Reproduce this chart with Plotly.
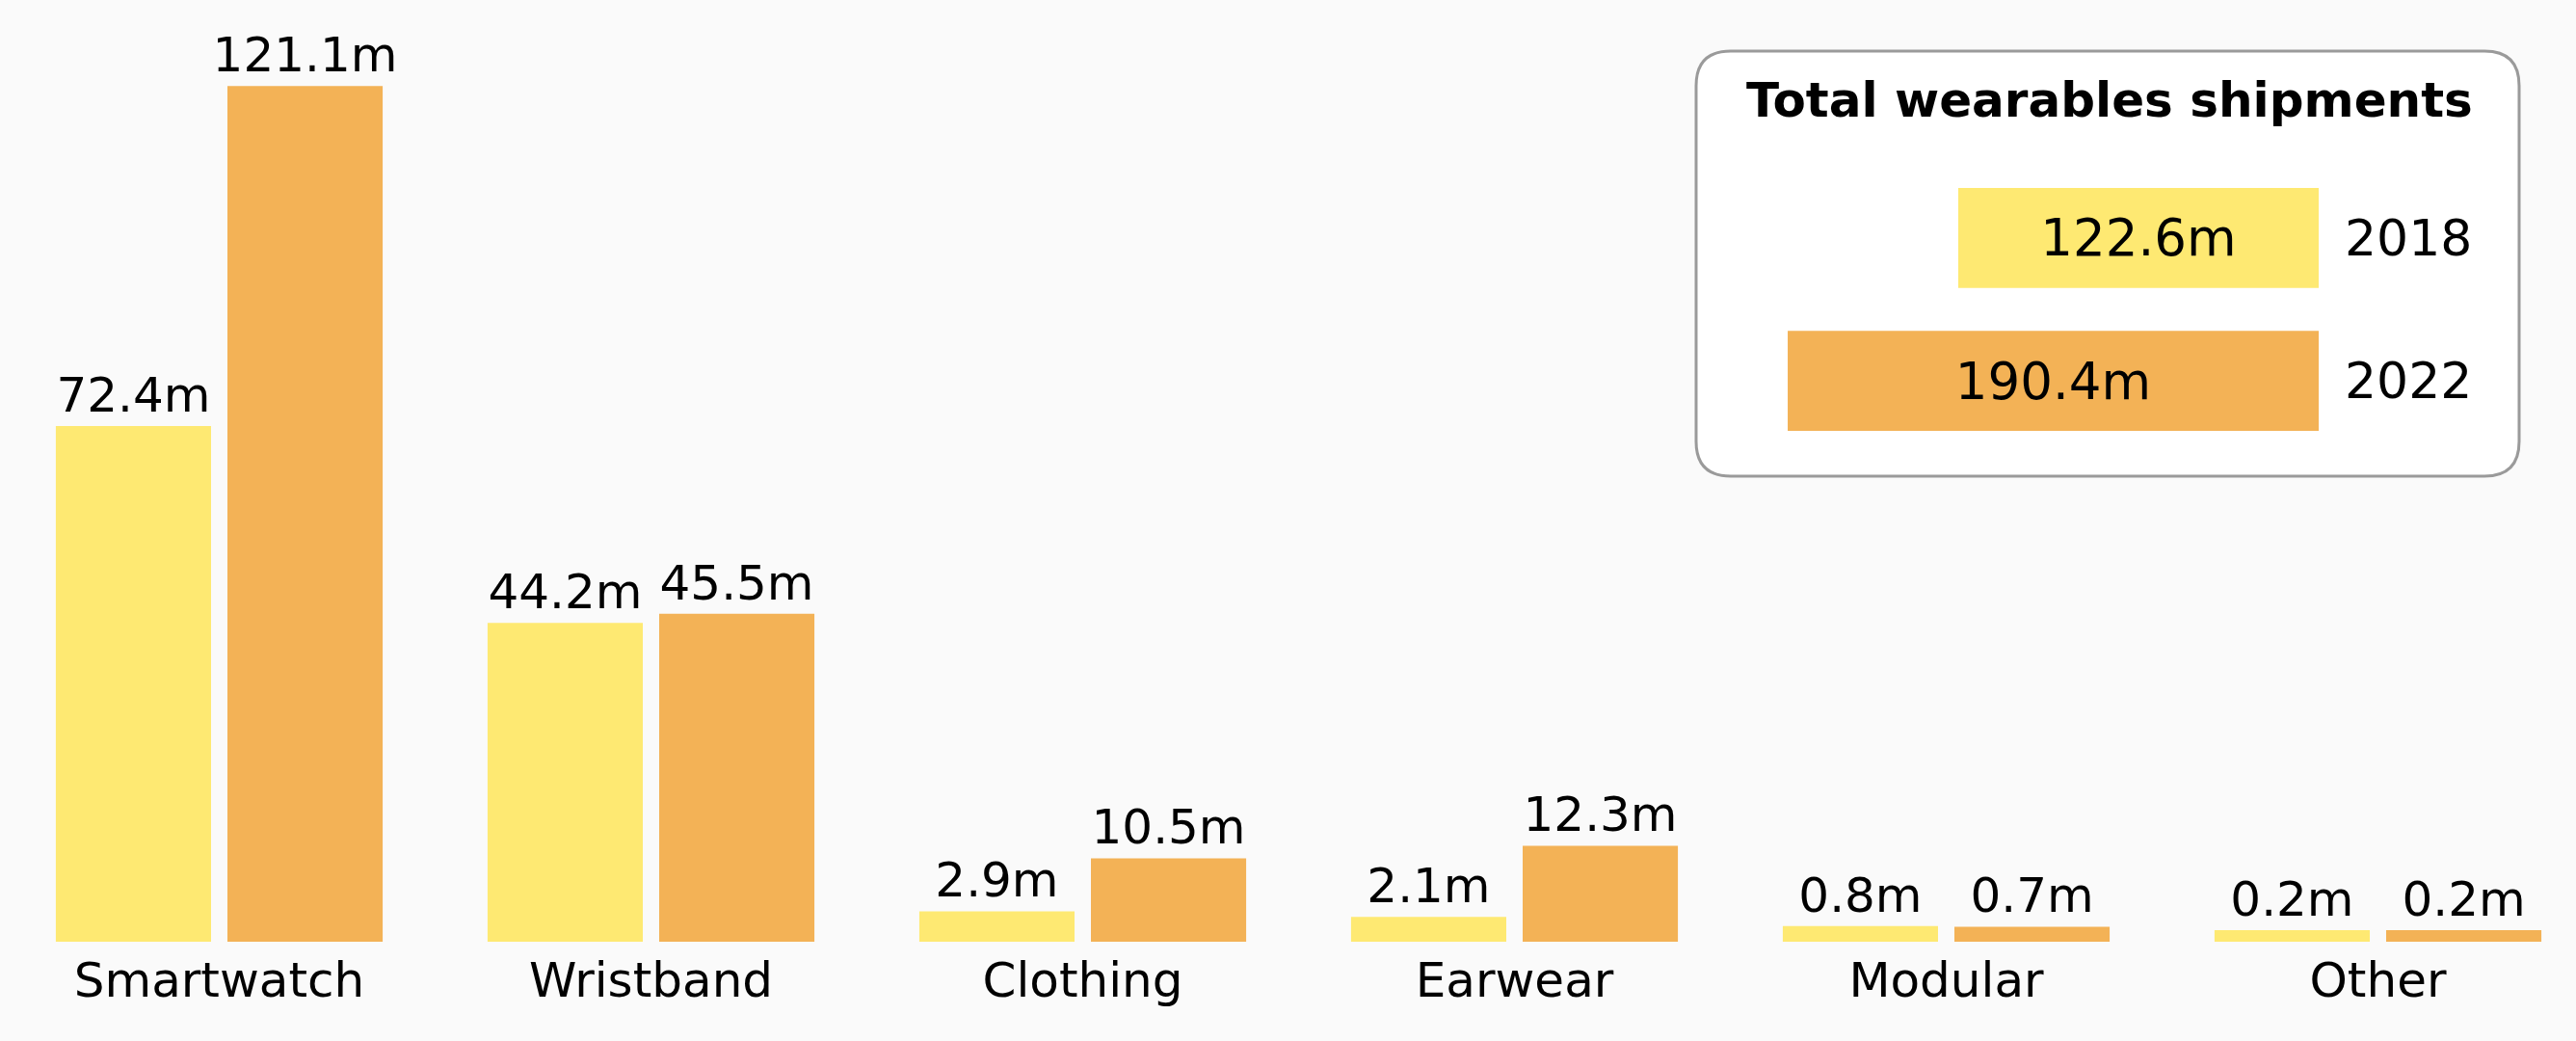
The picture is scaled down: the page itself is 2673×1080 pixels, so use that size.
import plotly.graph_objects as go

categories = ["Smartwatch", "Wristband", "Clothing", "Earwear", "Modular", "Other"]
shipments_2018 = [72.4, 44.2, 2.9, 2.1, 0.8, 0.2]
shipments_2022 = [121.1, 45.5, 10.5, 12.3, 0.7, 0.2]
years = ["2018", "2022"]
totals = [122.6, 190.4]

YELLOW = "#FEE972"
ORANGE = "#F3B256"
BG = "#fafafa"
FONT = "DejaVu Sans"

# every bar gets a small stub so tiny values stay visible
STUB = 1.45
TOTAL_STUB = 20.7

# page is 2673x1080, the body keeps an 8px margin around the figure
PAGE_W, PAGE_H = 2673, 1080
OFF = 8
W, H = PAGE_W - 2 * OFF, PAGE_H - 2 * OFF
PH = 977 - OFF
MB = H - PH


def px(x):
    return (x - OFF) / W


def py(y):
    return (PH - (y - OFF)) / PH


def label(v):
    return "%.1fm" % v


fig = go.Figure()

fig.add_trace(go.Bar(
    x=categories, y=[v + STUB for v in shipments_2018], base=-STUB,
    name="2018", marker=dict(color=YELLOW, line=dict(width=0)),
    text=[label(v) for v in shipments_2018], textposition="outside",
    textfont=dict(family=FONT, size=50, color="black"),
    constraintext="none", cliponaxis=False, hoverinfo="skip"))

fig.add_trace(go.Bar(
    x=categories, y=[v + STUB for v in shipments_2022], base=-STUB,
    name="2022", marker=dict(color=ORANGE, line=dict(width=0)),
    text=[label(v) for v in shipments_2022], textposition="outside",
    textfont=dict(family=FONT, size=50, color="black"),
    constraintext="none", cliponaxis=False, hoverinfo="skip"))

# totals box drawn as a small horizontal bar chart
fig.add_trace(go.Bar(
    y=years, x=[t + TOTAL_STUB for t in totals], base=-TOTAL_STUB,
    orientation="h", xaxis="x2", yaxis="y2", width=0.7, offset=-0.35,
    marker=dict(color=[YELLOW, ORANGE], line=dict(width=0)),
    text=[label(t) for t in totals], textposition="inside",
    insidetextanchor="middle", constraintext="none",
    textfont=dict(family=FONT, size=53, color="black"),
    hoverinfo="skip"))

# rounded legend box
L, R, T, B, RAD = 1760, 2614, 53, 494, 36
path = "M %f,%f " % (px(L + RAD), py(T))
path += "L %f,%f " % (px(R - RAD), py(T))
path += "Q %f,%f %f,%f " % (px(R), py(T), px(R), py(T + RAD))
path += "L %f,%f " % (px(R), py(B - RAD))
path += "Q %f,%f %f,%f " % (px(R), py(B), px(R - RAD), py(B))
path += "L %f,%f " % (px(L + RAD), py(B))
path += "Q %f,%f %f,%f " % (px(L), py(B), px(L), py(B - RAD))
path += "L %f,%f " % (px(L), py(T + RAD))
path += "Q %f,%f %f,%f Z" % (px(L), py(T), px(L + RAD), py(T))

fig.add_shape(type="path", path=path, xref="paper", yref="paper",
              fillcolor="white", line=dict(color="#9a9a9a", width=3),
              layer="below")

fig.add_annotation(text="<b>Total wearables shipments</b>", x=px(2189), y=py(104),
                   xref="paper", yref="paper", showarrow=False,
                   xanchor="center", yanchor="middle",
                   font=dict(family=FONT, size=50, color="black"))

x0 = -(227.5 - OFF) / 448.0
fig.update_layout(
    width=W, height=H,
    margin=dict(l=0, r=0, t=0, b=MB),
    paper_bgcolor=BG, plot_bgcolor="rgba(0,0,0,0)",
    barmode="group", bargap=0.205, bargroupgap=0.0955,
    showlegend=False,
    xaxis=dict(range=[x0, x0 + W / 448.0], showgrid=False, zeroline=False,
               showline=False, ticks="", fixedrange=True, ticklabelstandoff=6,
               tickfont=dict(family=FONT, size=50, color="black")),
    yaxis=dict(range=[-STUB, -STUB + PH / 7.245], visible=False),
    xaxis2=dict(domain=[px(1760), px(2406)], anchor="y2",
                range=[-TOTAL_STUB + 646 / 2.61, -TOTAL_STUB], visible=False),
    yaxis2=dict(domain=[py(469.25), py(172.75)], anchor="x2", type="category",
                range=[1.5, -0.5], side="right", showgrid=False, zeroline=False,
                showline=False, ticks="", ticklabelstandoff=26,
                tickfont=dict(family=FONT, size=52, color="black")),
)

# paint the page margin in the same grey as the chart
fig.write_html("out.html", post_script="document.body.style.background='%s';" % BG)
